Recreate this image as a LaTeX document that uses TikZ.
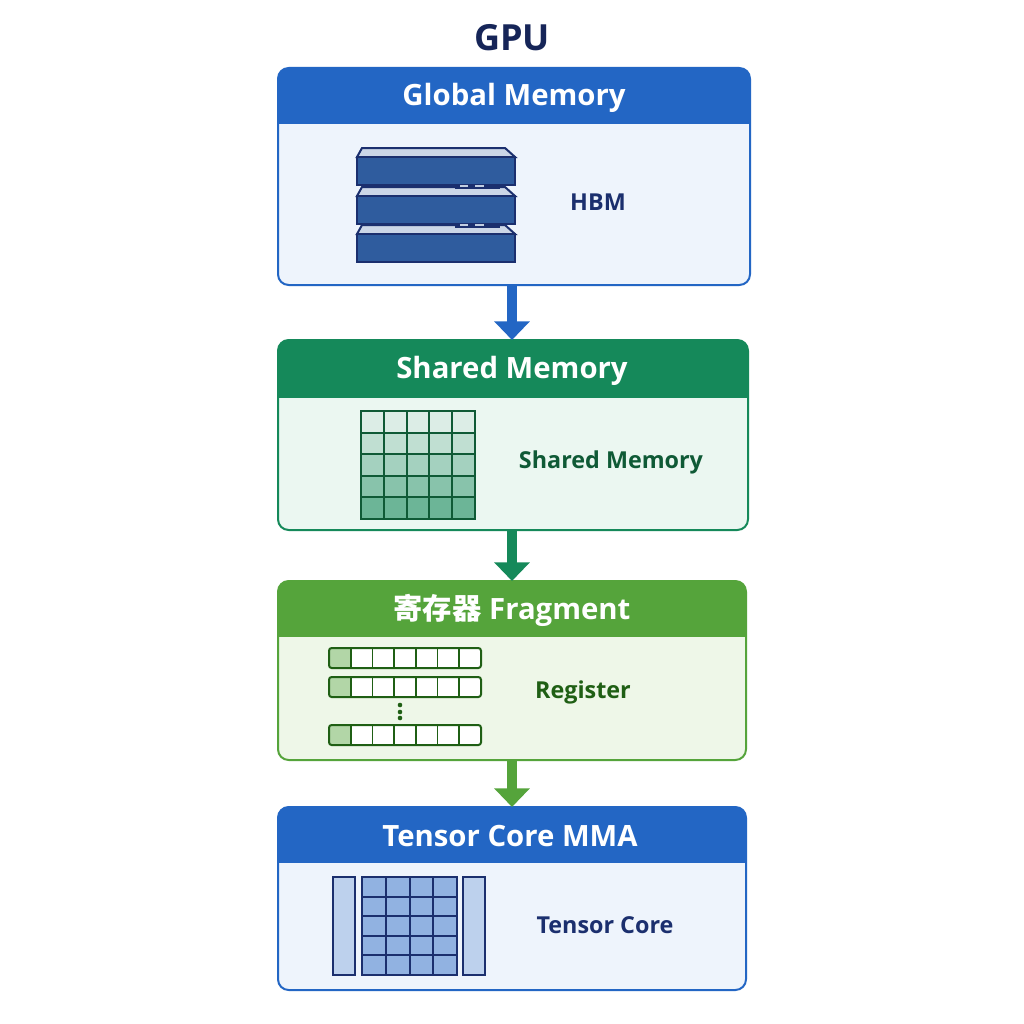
\documentclass[tikz,border=0pt]{standalone}
\usepackage{fontspec}
\usetikzlibrary{arrows.meta}
\setmainfont{Open Sans}
\newfontfamily\cjk{Noto Sans CJK SC}
\begin{document}
\definecolor{gblue}{HTML}{2366C4}
\definecolor{gbluebg}{HTML}{EEF4FC}
\definecolor{navy}{HTML}{1B2F6E}
\definecolor{sgreen}{HTML}{15895A}
\definecolor{sgreenbg}{HTML}{EBF7F1}
\definecolor{dgreen}{HTML}{0F5A36}
\definecolor{rgreen}{HTML}{55A43B}
\definecolor{rgreenbg}{HTML}{EEF7E8}
\definecolor{rdark}{HTML}{1F5F14}
\definecolor{slab}{HTML}{2F5C9E}
\begin{tikzpicture}[x=0.75pt,y=-0.75pt,
  hdr/.style={font=\fontsize{22}{26}\selectfont\bfseries,text=white},
  lab/.style={font=\fontsize{17.5}{21}\selectfont\bfseries},
  arr/.style={line width=7.5pt,-{Triangle[length=14pt,width=26pt]}}]
\useasboundingbox (0,0) rectangle (1024,1024);
\fill[white] (0,0) rectangle (1024,1024);
\node[font=\fontsize{27}{32}\selectfont\bfseries,text=navy!80!black] (title) at (512,38) {GPU};
\newcommand{\panel}[7]{%
  \fill[#7,rounded corners=8] (#1,#2) rectangle (#3,#4);
  \begin{scope}
  \clip[rounded corners=8] (#1,#2) rectangle (#3,#4);
  \fill[#6] (#1,#2) rectangle (#3,#5);
  \end{scope}
  \draw[#6,line width=1.5pt,rounded corners=8] (#1,#2) rectangle (#3,#4);}
\panel{278}{68}{750}{285}{124}{gblue}{gbluebg}
\panel{278}{340}{748}{530}{398}{sgreen}{sgreenbg}
\panel{278}{581}{746}{760}{637}{rgreen}{rgreenbg}
\panel{278}{807}{746}{990}{863}{gblue}{gbluebg}
\node[hdr] (h1) at (514,98) {Global Memory};
\node[hdr] (h2) at (512,371) {Shared Memory};
\node[hdr] (h3) at (512,610) {{\cjk 寄存器} Fragment};
\node[hdr] (h4) at (510,836) {Tensor Core MMA};
\coordinate (a1s) at (512,285); \coordinate (a1e) at (512,340);
\coordinate (a2s) at (512,530); \coordinate (a2e) at (512,581);
\coordinate (a3s) at (512,760); \coordinate (a3e) at (512,807);
\draw[arr,gblue] (a1s) -- (a1e);
\draw[arr,sgreen] (a2s) -- (a2e);
\draw[arr,rgreen] (a3s) -- (a3e);
\node[lab,text=navy] (l1) at (598,202) {HBM};
\node[lab,text=dgreen] (l2) at (611,462) {Shared Memory};
\node[lab,text=rdark] (l3) at (583,692) {Register};
\node[lab,text=navy] (l4) at (605,925) {Tensor Core};
% HBM slabs
\foreach \t in {148,187,225}{
  \draw[navy,line width=1.5pt,fill=slab!25] (362,\t) -- (505,\t) -- (515,\t+9) -- (357,\t+9) -- cycle;
  \draw[navy,line width=1.5pt,fill=slab] (357,\t+9) rectangle (515,\t+37);
}
\foreach \t in {186,225}{
  \fill[navy] (455,\t-2) rectangle (500,\t+3);
  \draw[white!70!slab,line width=1pt] (460,\t) -- (468,\t) (475,\t) -- (484,\t);
}
% shared grid
\foreach \r in {0,...,4}{\foreach \c in {0,...,4}{
  \pgfmathsetmacro{\s}{15+\r*12}
  \fill[sgreen!\s!white] (361+\c*22.8,411+\r*21.6) rectangle ++(22.8,21.6);}}
\foreach \i in {1,...,4}{
  \draw[dgreen,line width=1.5pt] (361+\i*22.8,411) -- (361+\i*22.8,519);
  \draw[dgreen,line width=1.5pt] (361,411+\i*21.6) -- (475,411+\i*21.6);}
\draw[dgreen,line width=1.8pt] (361,411) rectangle (475,519);
% register rows
\foreach \y in {648,677,725}{
  \fill[white] (329,\y) rectangle (481,\y+20);
  \fill[rgreen!45] (329,\y) rectangle (350.7,\y+20);
  \foreach \c in {1,...,6} \draw[rdark,line width=1.2pt] (329+\c*21.7,\y) -- (329+\c*21.7,\y+20);
  \draw[rdark,line width=1.5pt,rounded corners=2] (329,\y) rectangle (481,\y+20);
}
\foreach \y in {705,712,718} \fill[rdark] (400,\y) circle (2.3);
% tensor core
\draw[navy,line width=1.5pt,fill=gblue!30] (333,877) rectangle (355,975);
\draw[navy,line width=1.5pt,fill=gblue!30] (463,877) rectangle (485,975);
\fill[gblue!50] (362,877) rectangle (457,975);
\foreach \i in {1,...,3} \draw[navy,line width=1.5pt] (362+\i*23.75,877) -- (362+\i*23.75,975);
\foreach \i in {1,...,4} \draw[navy,line width=1.5pt] (362,877+\i*19.6) -- (457,877+\i*19.6);
\draw[navy,line width=1.8pt] (362,877) rectangle (457,975);
\end{tikzpicture}
\end{document}
